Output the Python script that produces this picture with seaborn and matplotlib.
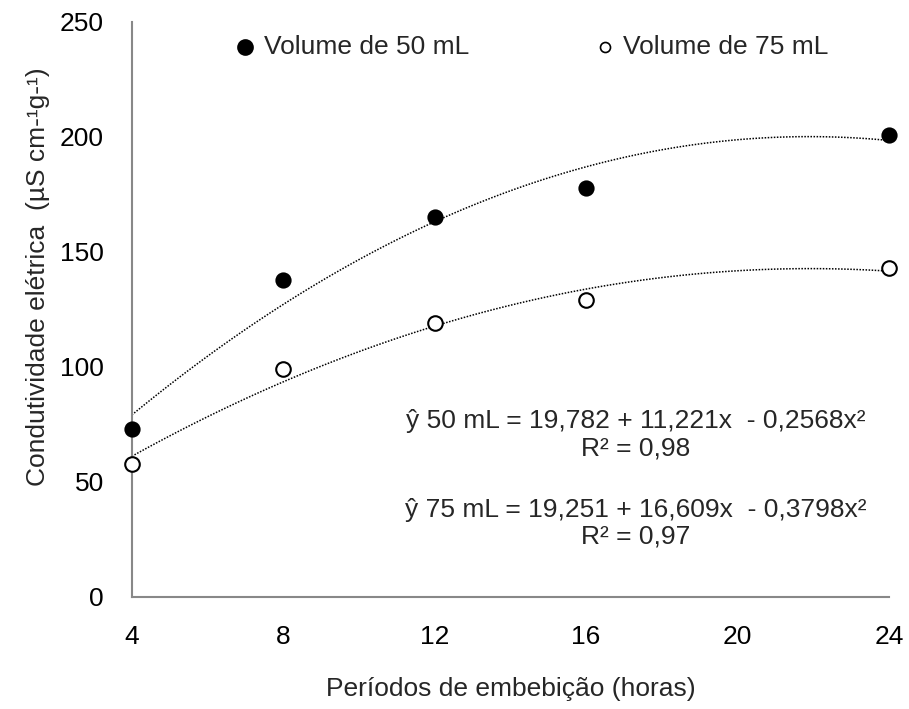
import matplotlib
matplotlib.use("Agg")
import matplotlib.pyplot as plt
import seaborn as sns
import pandas as pd

hours = [4, 8, 12, 16, 24]
vol50 = [73, 138, 165, 178, 201]
vol75 = [58, 99, 119, 129, 143]
x_ticks = [4, 8, 12, 16, 20, 24]
y_ticks = [0, 50, 100, 150, 200, 250]
label50 = "Volume de 50 mL"
label75 = "Volume de 75 mL"
eq50 = "ŷ 50 mL = 19,782 + 11,221x  - 0,2568x²\nR² = 0,98"
eq75 = "ŷ 75 mL = 19,251 + 16,609x  - 0,3798x²\nR² = 0,97"

sns.set_style("white")
plt.rcParams['font.family'] = ['Liberation Sans', 'DejaVu Sans']

df = pd.DataFrame({"h": hours, "v50": vol50, "v75": vol75})

fig = plt.figure(figsize=(9.09, 7.09), dpi=100)
ax = fig.add_axes([0.145, 0.158, 0.833, 0.811])

line_kws = dict(color="black", linestyle=(0, (1, 1)), linewidth=1.1)
sns.regplot(data=df, x="h", y="v50", order=2, ci=None, scatter=False, ax=ax, line_kws=line_kws)
sns.regplot(data=df, x="h", y="v75", order=2, ci=None, scatter=False, ax=ax, line_kws=line_kws)

sns.scatterplot(data=df, x="h", y="v50", ax=ax, s=110, color="black", edgecolor="black",
                linewidth=1.2, label=label50, zorder=5, clip_on=False)
sns.scatterplot(data=df, x="h", y="v75", ax=ax, s=110, facecolor="white", edgecolor="black",
                linewidth=1.5, label=label75, zorder=5, clip_on=False)

ax.set_xlim(4, 24)
ax.set_ylim(0, 250)
ax.set_xticks(x_ticks)
ax.set_yticks(y_ticks)
ax.tick_params(axis="both", labelsize=19, colors="#888888", labelcolor="black",
               direction="out", length=6, width=1.5)
ax.tick_params(axis="y", pad=14)
ax.tick_params(axis="x", pad=14)
for s in ["top", "right"]:
    ax.spines[s].set_visible(False)
for s in ["left", "bottom"]:
    ax.spines[s].set_color("#888888")
    ax.spines[s].set_linewidth(1.5)

ax.set_xlabel("Períodos de embebição (horas)", fontsize=19, labelpad=20)
ax.set_ylabel("Condutividade elétrica  (µS cm-¹g-¹)", fontsize=19)
ax.yaxis.set_label_coords(-0.108, 0.557)

ax.text(17.3, 70.5, eq50, ha="center", va="center", fontsize=19, linespacing=1.15)
ax.text(17.3, 32, eq75, ha="center", va="center", fontsize=19, linespacing=1.15)

leg = ax.legend(loc="center left", bbox_to_anchor=(0.258, 0.934), bbox_transform=fig.transFigure,
                ncol=2, frameon=False, fontsize=19, handlelength=0.8, handletextpad=0.3,
                columnspacing=4.75, borderpad=0, borderaxespad=0)
hs = leg.legend_handles
hs[0].set_sizes([117])
hs[1].set_sizes([52])
hs[1].set_linewidth(1.2)

fig.savefig("out.png", dpi=100)
